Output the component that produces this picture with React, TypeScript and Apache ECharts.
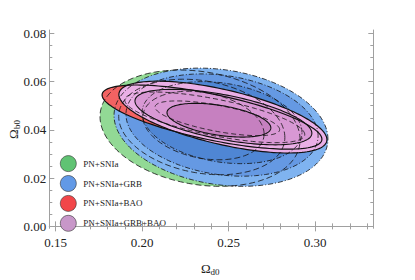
import React, { useEffect, useRef } from 'react';
import * as echarts from 'echarts';

// ---- axes ----
const xRange = [0.1464, 0.3336];
const yRange = [-0.0008, 0.0814];
const xMajorTicks = [0.15, 0.2, 0.25, 0.3];
const xMinorTicks = [0.15, 0.16, 0.17, 0.18, 0.19, 0.2, 0.21, 0.22, 0.23, 0.24, 0.25, 0.26, 0.27, 0.28, 0.29, 0.3, 0.31, 0.32, 0.33];
const yMajorTicks = [0, 0.02, 0.04, 0.06, 0.08];
const yMinorTicks = [0, 0.005, 0.01, 0.015, 0.02, 0.025, 0.03, 0.035, 0.04, 0.045, 0.05, 0.055, 0.06, 0.065, 0.07, 0.075, 0.08];

// ---- datasets ----
const seriesNames = ['PN+SNIa', 'PN+SNIa+GRB', 'PN+SNIa+BAO', 'PN+SNIa+GRB+BAO'];
// rows: [centre Ωd0, centre Ωb0, half-extent Ωd0, half-extent Ωb0, correlation]; 3σ, 2σ, 1σ
const pnSnIa = [
  [0.2335, 0.0407, 0.0578, 0.0241, -0.2],
  [0.2345, 0.0412, 0.0480, 0.0198, -0.22],
  [0.2355, 0.0418, 0.0350, 0.0142, -0.25],
];
const pnSnIaGrb = [
  [0.2456, 0.0411, 0.0618, 0.0245, -0.2],
  [0.2462, 0.0420, 0.0555, 0.0212, -0.21],
  [0.2462, 0.0430, 0.0462, 0.0170, -0.24],
];
const pnSnIaBao = [
  [0.2404, 0.0453, 0.0635, 0.0133, -0.688],
  [0.2420, 0.0452, 0.0520, 0.0105, -0.68],
  [0.2435, 0.0448, 0.0360, 0.0072, -0.65],
];
const pnSnIaGrbBao = [
  [0.2467, 0.0453, 0.0601, 0.0149, -0.627],
  [0.2470, 0.0453, 0.0511, 0.0115, -0.58],
  [0.2444, 0.0440, 0.0300, 0.0070, -0.45],
];
const allData = [pnSnIa, pnSnIaGrb, pnSnIaBao, pnSnIaGrbBao];

// ---- styles ----
const legendColors = ['#60c373', '#6299e6', '#f24649', '#c897c9'];
const levelFills = [
  ['#92d995', '#79cd82', '#62c16d'],
  ['#7fb3f0', '#6599e3', '#4f86d4'],
  ['#f26262', '#ec5050', '#e04040'],
  ['#eaafe6', '#d898d4', '#c680c0'],
];
const lineDashes: (number[] | null)[][] = [
  [[6, 3], [6, 3], [6, 3]],
  [[5, 2, 1, 2], [5, 2, 1, 2], [5, 2, 1, 2]],
  [null, [5, 3], [5, 3]],
  [null, null, null],
];
const lineWidths = [
  [0.8, 0.8, 0.8],
  [0.8, 0.8, 0.8],
  [1.2, 0.8, 0.8],
  [1.2, 1.1, 1.1],
];

const FONT = "'Liberation Serif', 'DejaVu Serif', serif";

function ellipsePoints(api: any) {
  const cx = api.value(0), cy = api.value(1), sx = api.value(2), sy = api.value(3), rho = api.value(4);
  const k = Math.sqrt(1 - rho * rho);
  const pts: number[][] = [];
  const n = 160;
  for (let i = 0; i < n; i++) {
    const t = (i / n) * Math.PI * 2;
    pts.push(api.coord([cx + sx * Math.cos(t), cy + sy * (rho * Math.cos(t) + k * Math.sin(t))]));
  }
  return pts;
}

function buildOption() {
  const axisGray = '#a0a0a0';
  const mkX = (position: string, ticks: number[], len: number, labels: boolean, line: boolean) => ({
    type: 'value', min: xRange[0], max: xRange[1], position,
    axisLine: { show: line, lineStyle: { color: axisGray, width: 1 } },
    splitLine: { show: false },
    axisTick: { show: true, inside: true, length: len, customValues: ticks, lineStyle: { color: axisGray } },
    axisLabel: labels
      ? { show: true, customValues: xMajorTicks, formatter: (v: number) => v.toFixed(2), margin: 8, fontFamily: FONT, fontSize: 13, color: '#222' }
      : { show: false },
  });
  const mkY = (position: string, ticks: number[], len: number, labels: boolean, line: boolean) => ({
    type: 'value', min: yRange[0], max: yRange[1], position,
    axisLine: { show: line, lineStyle: { color: axisGray, width: 1 } },
    splitLine: { show: false },
    axisTick: { show: true, inside: true, length: len, customValues: ticks, lineStyle: { color: axisGray } },
    axisLabel: labels
      ? { show: true, customValues: yMajorTicks, formatter: (v: number) => v.toFixed(2), margin: 3, fontFamily: FONT, fontSize: 13, color: '#222' }
      : { show: false },
  });

  const fillSeries = allData.map((rows, si) => ({
    type: 'custom', name: seriesNames[si], data: rows, xAxisIndex: 0, yAxisIndex: 0,
    itemStyle: { color: legendColors[si] }, silent: true, clip: true,
    renderItem: (params: any, api: any) => ({
      type: 'polygon',
      shape: { points: ellipsePoints(api) },
      style: { fill: levelFills[si][params.dataIndex], stroke: 'none' },
    }),
  }));
  const lineSeries = allData.map((rows, si) => ({
    type: 'custom', name: seriesNames[si] + ' contours', data: rows, xAxisIndex: 0, yAxisIndex: 0,
    silent: true, clip: true,
    renderItem: (params: any, api: any) => ({
      type: 'polygon',
      shape: { points: ellipsePoints(api) },
      style: {
        fill: 'none', stroke: '#111',
        lineWidth: lineWidths[si][params.dataIndex],
        lineDash: lineDashes[si][params.dataIndex] || undefined,
      },
    }),
  }));

  return {
    animation: false,
    grid: { left: 49.3, right: 415 - 373.3, top: 30, bottom: 280 - 228.3, containLabel: false },
    xAxis: [
      mkX('bottom', xMajorTicks, 5, true, true),
      mkX('bottom', xMinorTicks, 3, false, false),
      mkX('top', xMajorTicks, 5, false, true),
      mkX('top', xMinorTicks, 3, false, false),
    ],
    yAxis: [
      mkY('left', yMajorTicks, 5, true, true),
      mkY('left', yMinorTicks, 3, false, false),
      mkY('right', yMajorTicks, 5, false, true),
      mkY('right', yMinorTicks, 3, false, false),
    ],
    legend: {
      data: seriesNames, orient: 'vertical', left: 55, top: 150.3, icon: 'circle',
      itemWidth: 16, itemHeight: 16, itemGap: 3.3, selectedMode: false,
      itemStyle: { borderColor: '#333', borderWidth: 0.6 },
      textStyle: { fontFamily: FONT, fontSize: 9, color: '#222', padding: [0, 0, 0, 2] },
    },
    graphic: [
      { type: 'text', x: 201, y: 268, style: { text: 'Ω', font: `13px ${FONT}`, fill: '#222', verticalAlign: 'middle', align: 'left' } },
      { type: 'text', x: 210.5, y: 271.5, style: { text: 'd0', font: `9px ${FONT}`, fill: '#222', verticalAlign: 'middle', align: 'left' } },
      {
        type: 'group', x: 13, y: 139, rotation: Math.PI / 2,
        children: [
          { type: 'text', x: 0, y: 0, style: { text: 'Ω', font: `13px ${FONT}`, fill: '#222', verticalAlign: 'middle', align: 'left' } },
          { type: 'text', x: 10, y: 3.5, style: { text: 'b0', font: `9px ${FONT}`, fill: '#222', verticalAlign: 'middle', align: 'left' } },
        ],
      },
    ],
    series: [...fillSeries, ...lineSeries],
  };
}

export default function App() {
  const ref = useRef<HTMLDivElement>(null);
  useEffect(() => {
    if (!ref.current) return;
    const chart = echarts.init(ref.current, undefined, { renderer: 'svg' });
    chart.setOption(buildOption() as any);
    return () => chart.dispose();
  }, []);
  return <div ref={ref} style={{ position: 'fixed', left: 0, top: 0, width: 415, height: 280, background: '#fff' }} />;
}
